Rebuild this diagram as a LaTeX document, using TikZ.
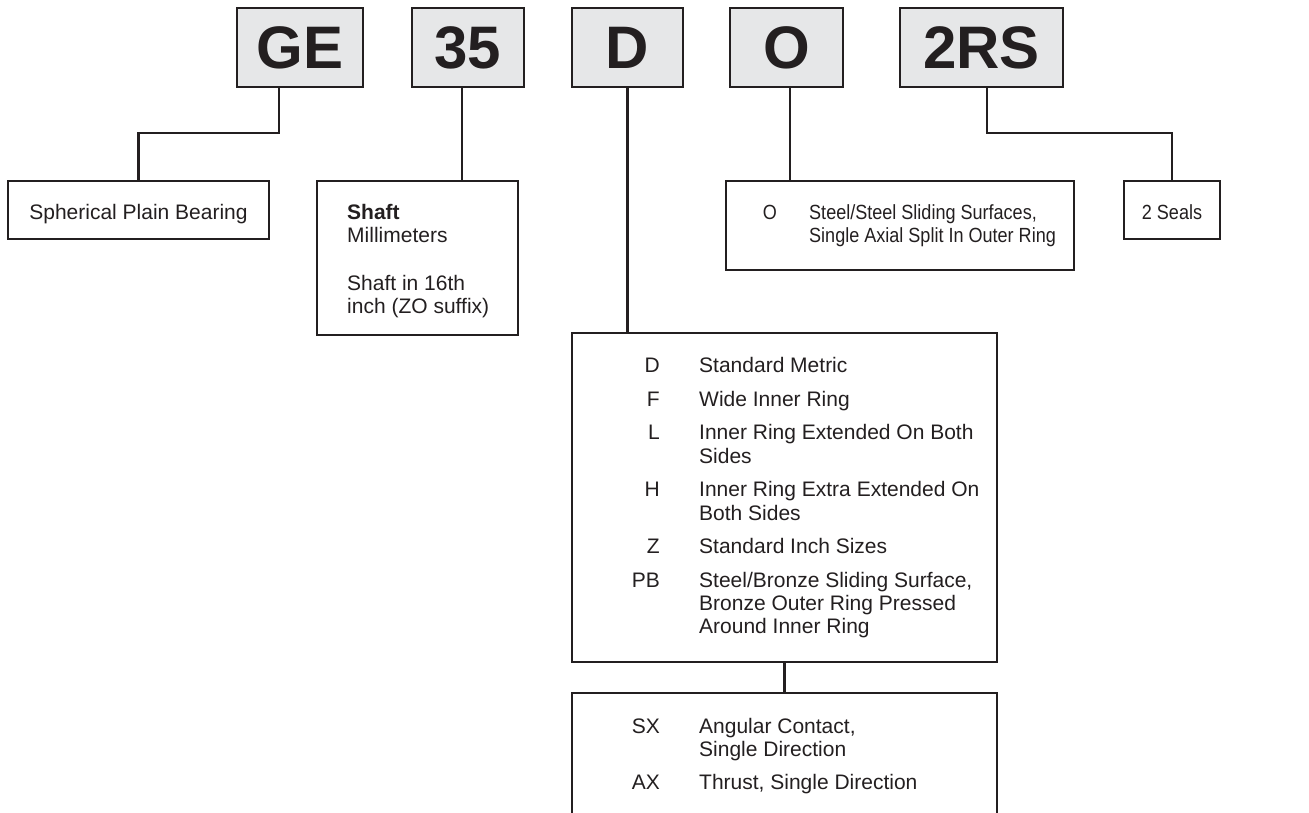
\documentclass[tikz,border=0pt]{standalone}
\usepackage{fontspec}
\setmainfont{Liberation Sans}
\newfontfamily\narrowfont[FakeStretch=0.88]{Liberation Sans}
\definecolor{ink}{HTML}{231F20}
\definecolor{codefill}{HTML}{E6E7E8}
\begin{document}
\begin{tikzpicture}[x=1pt,y=-1pt,
  codebox/.style={draw=ink, fill=codefill, line width=2.2pt, minimum height=79pt, inner sep=0pt,
    font=\fontsize{60}{60}\selectfont\bfseries, text=ink},
  descbox/.style={draw=ink, line width=2.2pt, inner sep=0pt},
  txt/.style={font=\fontsize{21}{24}\selectfont, text=ink, inner sep=0pt},
  narrowtxt/.style={font=\narrowfont\fontsize{20.5}{23}\selectfont, text=ink, inner sep=0pt},
  link/.style={draw=ink, line width=2.2pt}]
\useasboundingbox (0,0) rectangle (1309,813);
\clip (0,0) rectangle (1309,813);

% code boxes
\node[codebox, minimum width=126pt] (ge)  at (300,47.5)   {GE};
\node[codebox, minimum width=112pt] (n35) at (468,47.5)   {35};
\node[codebox, minimum width=111pt] (cd)  at (627.5,47.5) {D};
\node[codebox, minimum width=113pt] (co)  at (786.5,47.5) {O};
\node[codebox, minimum width=163pt] (crs) at (981.5,47.5) {2RS};

% description boxes
\node[descbox, minimum width=261pt, minimum height=58pt]  (sph)   at (138.5,210)  {};
\node[descbox, minimum width=201pt, minimum height=154pt] (shaft) at (417.5,258)  {};
\node[descbox, minimum width=348pt, minimum height=89pt]  (odesc) at (900,225.5)  {};
\node[descbox, minimum width=96pt,  minimum height=58pt]  (seals) at (1172,210)   {};
\node[descbox, minimum width=425pt, minimum height=329pt] (big)   at (784.5,497.5){};
\node[descbox, minimum width=425pt, minimum height=157pt] (bot)   at (784.5,771.5){};

% connectors
\draw[link] ([xshift=-21pt]ge.south) -- ++(0,45) -| (sph.north);
\draw[link] ([xshift=-6pt]n35.south) -- ([xshift=-6pt]n35.south |- shaft.north);
\draw[link] (cd.south) -- (cd.south |- big.north);
\draw[link] ([xshift=3.5pt]co.south) -- ([xshift=3.5pt]co.south |- odesc.north);
\draw[link] ([xshift=5.5pt]crs.south) -- ++(0,45) -| (seals.north);
\draw[link] (big.south) -- (bot.north);

% texts
\node[txt, anchor=base] (tsph) at (138.5,220) {Spherical Plain Bearing};

\node[txt, anchor=base west] (ts1) at (347,220) {\textbf{Shaft}};
\node[txt, anchor=base west] (ts2) at (347,243) {Millimeters};
\node[txt, anchor=base west] (ts3) at (347,290) {Shaft in 16th};
\node[txt, anchor=base west] (ts4) at (347,313) {inch (ZO suffix)};

\node[narrowtxt, anchor=base] (to0) at (770,220) {O};
\node[narrowtxt, anchor=base west] (to1) at (809,220) {Steel/Steel Sliding Surfaces,};
\node[narrowtxt, anchor=base west] (to2) at (809,243) {Single Axial Split In Outer Ring};

\node[narrowtxt, anchor=base] (tseals) at (1172,220) {2 Seals};

\node[txt, anchor=base east] (kd) at (660,372) {D};
\node[txt, anchor=base west] (vd) at (699,372) {Standard Metric};
\node[txt, anchor=base east] (kf) at (660,406) {F};
\node[txt, anchor=base west] (vf) at (699,406) {Wide Inner Ring};
\node[txt, anchor=base east] (kl) at (660,439) {L};
\node[txt, anchor=base west] (vl1) at (699,439) {Inner Ring Extended On Both};
\node[txt, anchor=base west] (vl2) at (699,463) {Sides};
\node[txt, anchor=base east] (kh) at (660,496) {H};
\node[txt, anchor=base west] (vh1) at (699,496) {Inner Ring Extra Extended On};
\node[txt, anchor=base west] (vh2) at (699,520) {Both Sides};
\node[txt, anchor=base east] (kz) at (660,553) {Z};
\node[txt, anchor=base west] (vz) at (699,553) {Standard Inch Sizes};
\node[txt, anchor=base east] (kpb) at (660,587) {PB};
\node[txt, anchor=base west] (vpb1) at (699,587) {Steel/Bronze Sliding Surface,};
\node[txt, anchor=base west] (vpb2) at (699,610) {Bronze Outer Ring Pressed};
\node[txt, anchor=base west] (vpb3) at (699,633) {Around Inner Ring};

\node[txt, anchor=base east] (ksx) at (660,733) {SX};
\node[txt, anchor=base west] (vsx1) at (699,733) {Angular Contact,};
\node[txt, anchor=base west] (vsx2) at (699,756) {Single Direction};
\node[txt, anchor=base east] (kax) at (660,789) {AX};
\node[txt, anchor=base west] (vax) at (699,789) {Thrust, Single Direction};
\end{tikzpicture}
\end{document}
